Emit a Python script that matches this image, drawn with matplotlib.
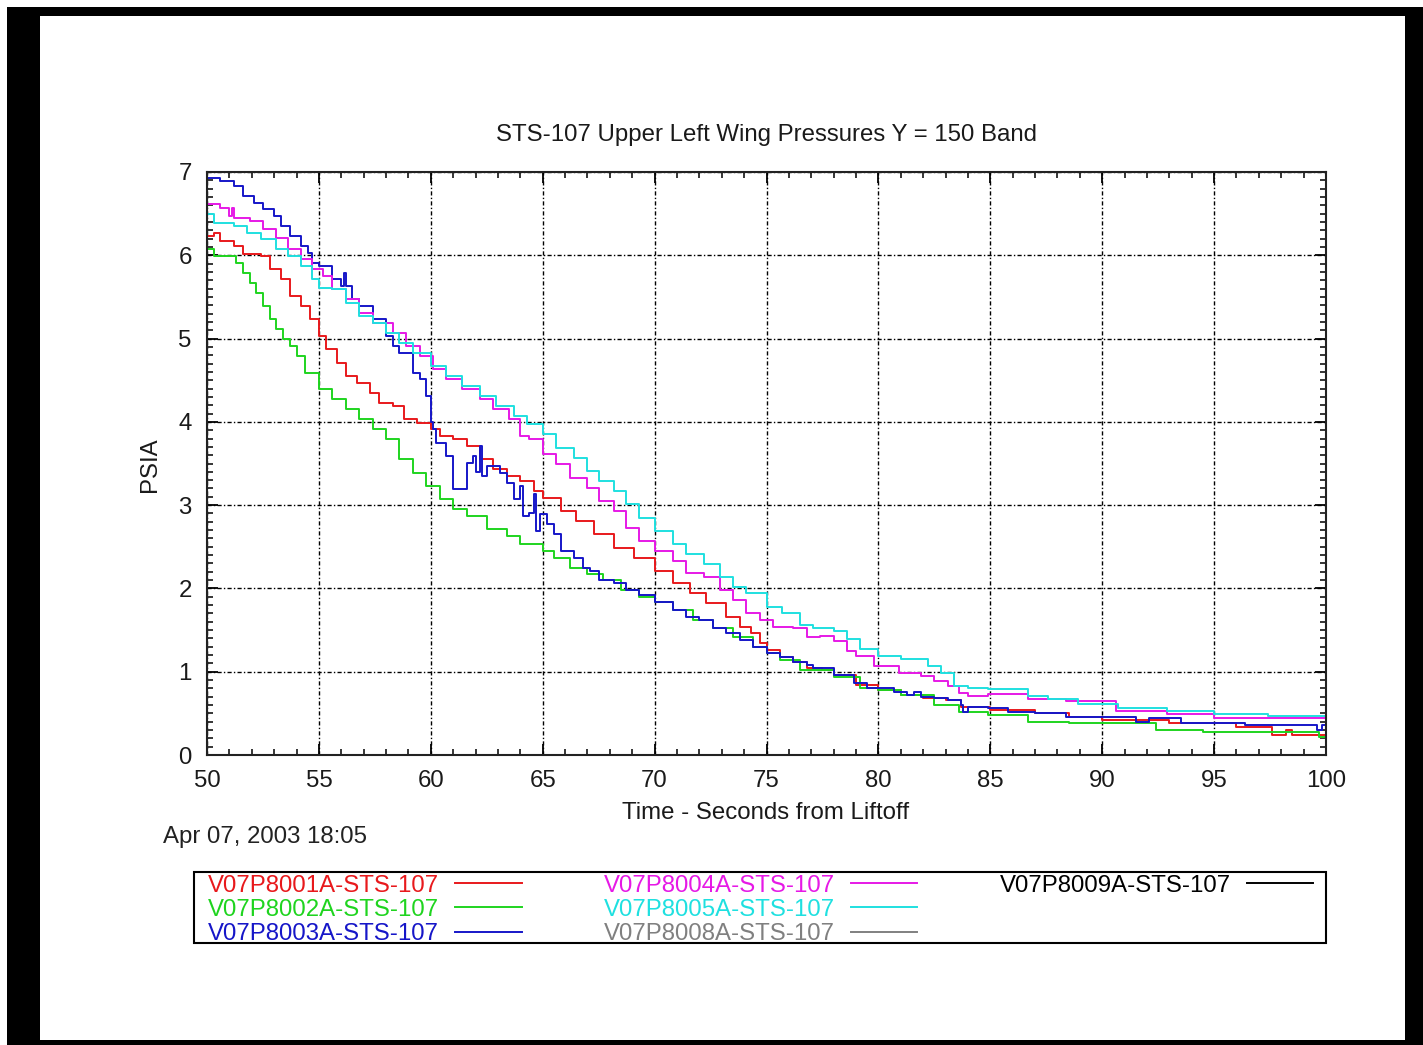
import matplotlib
matplotlib.use('Agg')
import matplotlib.pyplot as plt
from matplotlib.patches import Rectangle
from matplotlib.lines import Line2D
from matplotlib.ticker import MultipleLocator

plt.rcParams['font.family'] = ['Liberation Sans', 'DejaVu Sans']

# ---------------- data (time s, pressure psia) ----------------
title = "STS-107 Upper Left Wing Pressures Y = 150 Band"
x_label = "Time - Seconds from Liftoff"
y_label = "PSIA"
date_text = "Apr 07, 2003 18:05"

series_names = ["V07P8001A-STS-107", "V07P8002A-STS-107", "V07P8003A-STS-107",
                "V07P8004A-STS-107", "V07P8005A-STS-107", "V07P8008A-STS-107",
                "V07P8009A-STS-107"]
series_colors = ["#e8191c", "#1fd41f", "#1616c8", "#e619e6", "#1fe0e0", "#808080", "#000000"]

p8001 = [(50.0, 6.23), (50.3, 6.27), (50.6, 6.17), (51.2, 6.11), (51.6, 6.01), (52.4, 5.99),
         (52.8, 5.83), (53.3, 5.71), (53.7, 5.51), (54.2, 5.39), (54.6, 5.23), (55.0, 5.03),
         (55.3, 4.87), (55.8, 4.71), (56.2, 4.55), (56.7, 4.47), (57.3, 4.35), (57.7, 4.23),
         (58.3, 4.19), (58.8, 4.03), (59.4, 3.99), (60.0, 3.91), (60.4, 3.83), (61.0, 3.79),
         (61.6, 3.71), (62.2, 3.55), (62.8, 3.43), (63.4, 3.35), (64.0, 3.29), (64.6, 3.17),
         (65.0, 3.09), (65.8, 2.93), (66.5, 2.81), (67.3, 2.65), (68.2, 2.49), (69.1, 2.37),
         (70.0, 2.21), (70.8, 2.06), (71.6, 1.94), (72.3, 1.82), (73.2, 1.66), (73.8, 1.54),
         (74.3, 1.46), (74.7, 1.34), (75.0, 1.26), (75.6, 1.18), (76.2, 1.12), (76.8, 1.04),
         (77.5, 1.02), (78.0, 0.96), (79.0, 0.84), (80.0, 0.78), (81.0, 0.72), (82.0, 0.68),
         (83.0, 0.66), (83.7, 0.58), (85.0, 0.54), (87.0, 0.50), (88.5, 0.46), (90.0, 0.42),
         (91.5, 0.42), (93.0, 0.38), (96.0, 0.34), (97.6, 0.24), (98.2, 0.30), (98.5, 0.24),
         (100.0, 0.26)]

p8002 = [(50.0, 6.07), (50.3, 5.99), (51.0, 5.99), (51.3, 5.91), (51.6, 5.79), (51.9, 5.67),
         (52.2, 5.55), (52.5, 5.39), (52.8, 5.23), (53.1, 5.11), (53.4, 4.99), (53.7, 4.91),
         (54.0, 4.79), (54.4, 4.59), (55.0, 4.39), (55.6, 4.27), (56.2, 4.15), (56.8, 4.03),
         (57.4, 3.91), (58.0, 3.79), (58.6, 3.55), (59.2, 3.39), (59.8, 3.23), (60.4, 3.07),
         (61.0, 2.95), (61.6, 2.87), (62.5, 2.71), (63.4, 2.63), (64.0, 2.53), (65.0, 2.45),
         (65.5, 2.37), (66.2, 2.25), (67.0, 2.17), (67.7, 2.10), (68.5, 1.98), (69.3, 1.90),
         (70.0, 1.84), (70.8, 1.74), (71.7, 1.62), (72.6, 1.52), (73.5, 1.42), (74.4, 1.30),
         (75.0, 1.22), (75.6, 1.14), (76.5, 1.02), (78.0, 0.94), (79.2, 0.80), (80.0, 0.78),
         (81.0, 0.72), (82.5, 0.60), (83.6, 0.52), (84.9, 0.48), (86.7, 0.40), (88.5, 0.38),
         (92.4, 0.30), (94.5, 0.28), (99.0, 0.28), (99.7, 0.22), (100.0, 0.22)]

p8003 = [(50.0, 6.93), (50.6, 6.89), (51.2, 6.83), (51.6, 6.71), (52.1, 6.63), (52.5, 6.55),
         (53.0, 6.47), (53.3, 6.35), (53.7, 6.23), (54.2, 6.11), (54.5, 6.03), (54.7, 5.91),
         (55.0, 5.87), (55.3, 5.87), (55.6, 5.71), (56.0, 5.63), (56.1, 5.79), (56.2, 5.63),
         (56.5, 5.47), (56.8, 5.39), (57.4, 5.23), (58.0, 5.03), (58.3, 4.91), (58.6, 4.83),
         (59.2, 4.59), (59.5, 4.51), (59.8, 4.31), (60.0, 4.00), (60.1, 3.91), (60.25, 3.75),
         (60.7, 3.59), (61.0, 3.19), (61.4, 3.19), (61.6, 3.51), (61.9, 3.59), (62.0, 3.40),
         (62.2, 3.71), (62.3, 3.35), (62.5, 3.47), (62.8, 3.47), (63.1, 3.39), (63.4, 3.27),
         (63.7, 3.07), (64.0, 3.23), (64.1, 2.87), (64.4, 2.91), (64.6, 3.13), (64.7, 2.69),
         (64.9, 2.89), (65.2, 2.77), (65.5, 2.65), (65.8, 2.45), (66.4, 2.37), (66.8, 2.25),
         (67.1, 2.21), (67.5, 2.10), (68.2, 2.06), (68.7, 1.98), (69.3, 1.92), (70.0, 1.84),
         (70.8, 1.74), (71.4, 1.66), (72.0, 1.62), (72.6, 1.52), (73.2, 1.46), (73.8, 1.38),
         (74.4, 1.30), (75.0, 1.22), (75.6, 1.18), (76.2, 1.12), (76.8, 1.08), (77.1, 1.04),
         (78.0, 0.96), (78.9, 0.86), (79.5, 0.80), (80.7, 0.76), (81.3, 0.72), (81.6, 0.76),
         (81.9, 0.70), (82.5, 0.68), (83.1, 0.66), (83.7, 0.60), (83.8, 0.52), (84.0, 0.58),
         (84.9, 0.56), (85.8, 0.52), (87.0, 0.50), (88.4, 0.46), (90.0, 0.46), (91.5, 0.40),
         (92.1, 0.44), (93.5, 0.38), (94.5, 0.38), (96.4, 0.36), (99.0, 0.36), (99.6, 0.30),
         (99.8, 0.36), (100.0, 0.36)]

p8004 = [(50.0, 6.61), (50.6, 6.57), (51.0, 6.47), (51.1, 6.57), (51.2, 6.45), (51.9, 6.41),
         (52.5, 6.31), (53.1, 6.21), (53.6, 6.07), (54.2, 5.95), (54.7, 5.83), (55.2, 5.75),
         (55.6, 5.59), (56.2, 5.47), (56.8, 5.31), (57.4, 5.19), (58.3, 5.07), (58.9, 4.91),
         (59.5, 4.79), (60.1, 4.63), (60.7, 4.51), (61.4, 4.39), (62.2, 4.27), (62.8, 4.15),
         (63.5, 4.03), (64.0, 3.83), (64.4, 3.79), (65.0, 3.61), (65.6, 3.49), (66.2, 3.33),
         (67.0, 3.21), (67.5, 3.05), (68.2, 2.93), (68.7, 2.73), (69.3, 2.57), (70.0, 2.45),
         (70.8, 2.33), (71.4, 2.18), (72.2, 2.14), (72.9, 1.98), (73.5, 1.86), (74.1, 1.70),
         (74.7, 1.62), (75.3, 1.54), (76.2, 1.52), (76.8, 1.42), (77.4, 1.43), (78.0, 1.37),
         (78.6, 1.25), (79.0, 1.19), (79.8, 1.07), (80.9, 0.99), (81.9, 0.95), (82.5, 0.89),
         (83.1, 0.83), (83.6, 0.75), (84.0, 0.71), (84.9, 0.73), (86.7, 0.67), (88.4, 0.65),
         (90.6, 0.53), (92.9, 0.49), (95.0, 0.45), (97.4, 0.45), (100.0, 0.45)]

p8005 = [(50.0, 6.49), (50.3, 6.39), (51.2, 6.35), (51.8, 6.27), (52.4, 6.19), (53.1, 6.07),
         (53.6, 5.99), (54.2, 5.87), (54.7, 5.71), (55.0, 5.61), (55.6, 5.59), (56.2, 5.43),
         (56.8, 5.27), (57.4, 5.19), (58.0, 5.07), (58.6, 4.95), (59.2, 4.83), (60.0, 4.67),
         (60.7, 4.55), (61.4, 4.43), (62.2, 4.31), (62.9, 4.19), (63.7, 4.07), (64.3, 3.97),
         (65.0, 3.85), (65.6, 3.69), (66.4, 3.57), (67.0, 3.41), (67.5, 3.29), (68.2, 3.17),
         (68.7, 3.01), (69.3, 2.85), (70.0, 2.69), (70.8, 2.53), (71.4, 2.41), (72.2, 2.29),
         (72.9, 2.14), (73.5, 2.02), (74.1, 1.94), (75.0, 1.78), (75.7, 1.70), (76.5, 1.56),
         (77.1, 1.53), (78.0, 1.49), (78.6, 1.39), (79.2, 1.27), (80.0, 1.19), (81.0, 1.15),
         (82.2, 1.07), (82.8, 0.99), (83.4, 0.83), (84.0, 0.81), (84.9, 0.79), (86.7, 0.71),
         (87.6, 0.67), (88.9, 0.61), (90.7, 0.57), (92.9, 0.53), (95.0, 0.49), (97.4, 0.47),
         (100.0, 0.47)]

p8008 = []   # listed in legend, no visible trace
p8009 = []   # listed in legend, no visible trace

series_data = [p8001, p8002, p8003, p8004, p8005, p8008, p8009]

# ---------------- figure ----------------
W, H = 1423, 1045
FS = 17.3
fig = plt.figure(figsize=(W / 100, H / 100), dpi=100)
fig.patch.set_facecolor('white')
fig.patches.append(Rectangle((7 / W, 0), (W - 7) / W, (H - 7) / H, transform=fig.transFigure,
                             facecolor='black', edgecolor='none', zorder=-10))
fig.patches.append(Rectangle((40 / W, 5 / H), (1405 - 40) / W, (1040 - 16) / H,
                             transform=fig.transFigure, facecolor='white', edgecolor='none',
                             zorder=-9))

ax = fig.add_axes([207 / W, 1 - 755 / H, (1326 - 207) / W, (755 - 172) / H])

handles = []
for name, color, data in zip(series_names, series_colors, series_data):
    xs = [p[0] for p in data]
    ys = [p[1] for p in data]
    ln, = ax.plot(xs, ys, color=color, lw=1.4, drawstyle='steps-post', label=name)
    handles.append(ln)

ax.set_xlim(50, 100)
ax.set_ylim(0, 7)
ax.xaxis.set_major_locator(MultipleLocator(5))
ax.xaxis.set_minor_locator(MultipleLocator(1))
ax.yaxis.set_major_locator(MultipleLocator(1))
ax.yaxis.set_minor_locator(MultipleLocator(0.1))
ax.tick_params(which='both', direction='in', top=True, right=True, colors='black',
               labelcolor='#1a1a1a', labelsize=FS)
ax.tick_params(which='major', length=8, width=1.3, pad=11)
ax.tick_params(which='minor', length=4.5, width=1.1)
ax.grid(which='major', color='black', linestyle=(0, (3, 1.6, 1, 1.6)), linewidth=1.0)
for s in ax.spines.values():
    s.set_linewidth(1.5)
    s.set_color('#222222')

txtc = '#1a1a1a'
fig.text(766 / W, 1 - 135 / H, title, ha='center', va='center', fontsize=FS, color=txtc)
fig.text(766 / W, 1 - 813 / H, x_label, ha='center', va='center', fontsize=FS, color=txtc)
fig.text(150 / W, 1 - 465 / H, y_label, ha='center', va='center', rotation=90, fontsize=FS,
         color=txtc)
fig.text(163 / W, 1 - 837 / H, date_text, ha='left', va='center', fontsize=FS, color='#222222')

# legend box drawn as its own frame
fig.patches.append(Rectangle((194 / W, 1 - 943 / H), (1326 - 194) / W, (943 - 872) / H,
                             transform=fig.transFigure, facecolor='white', edgecolor='black',
                             linewidth=1.5, zorder=5))

blank = Line2D([], [], color='none')
leg_handles = handles[:7] + [blank, blank]
leg_labels = series_names + ['', '']
leg = fig.legend(leg_handles, leg_labels, ncol=3, loc='upper left',
                 bbox_to_anchor=(208 / W, 1 - 874.5 / H), bbox_transform=fig.transFigure,
                 borderaxespad=0, markerfirst=False, frameon=False, fontsize=FS,
                 handlelength=2.75, handletextpad=0.68, columnspacing=3.42, labelspacing=0.1,
                 borderpad=0.0)
leg.set_zorder(6)
for t, c in zip(leg.get_texts(), series_colors + ['white', 'white']):
    t.set_color(c)

fig.savefig('out.png', dpi=100)
